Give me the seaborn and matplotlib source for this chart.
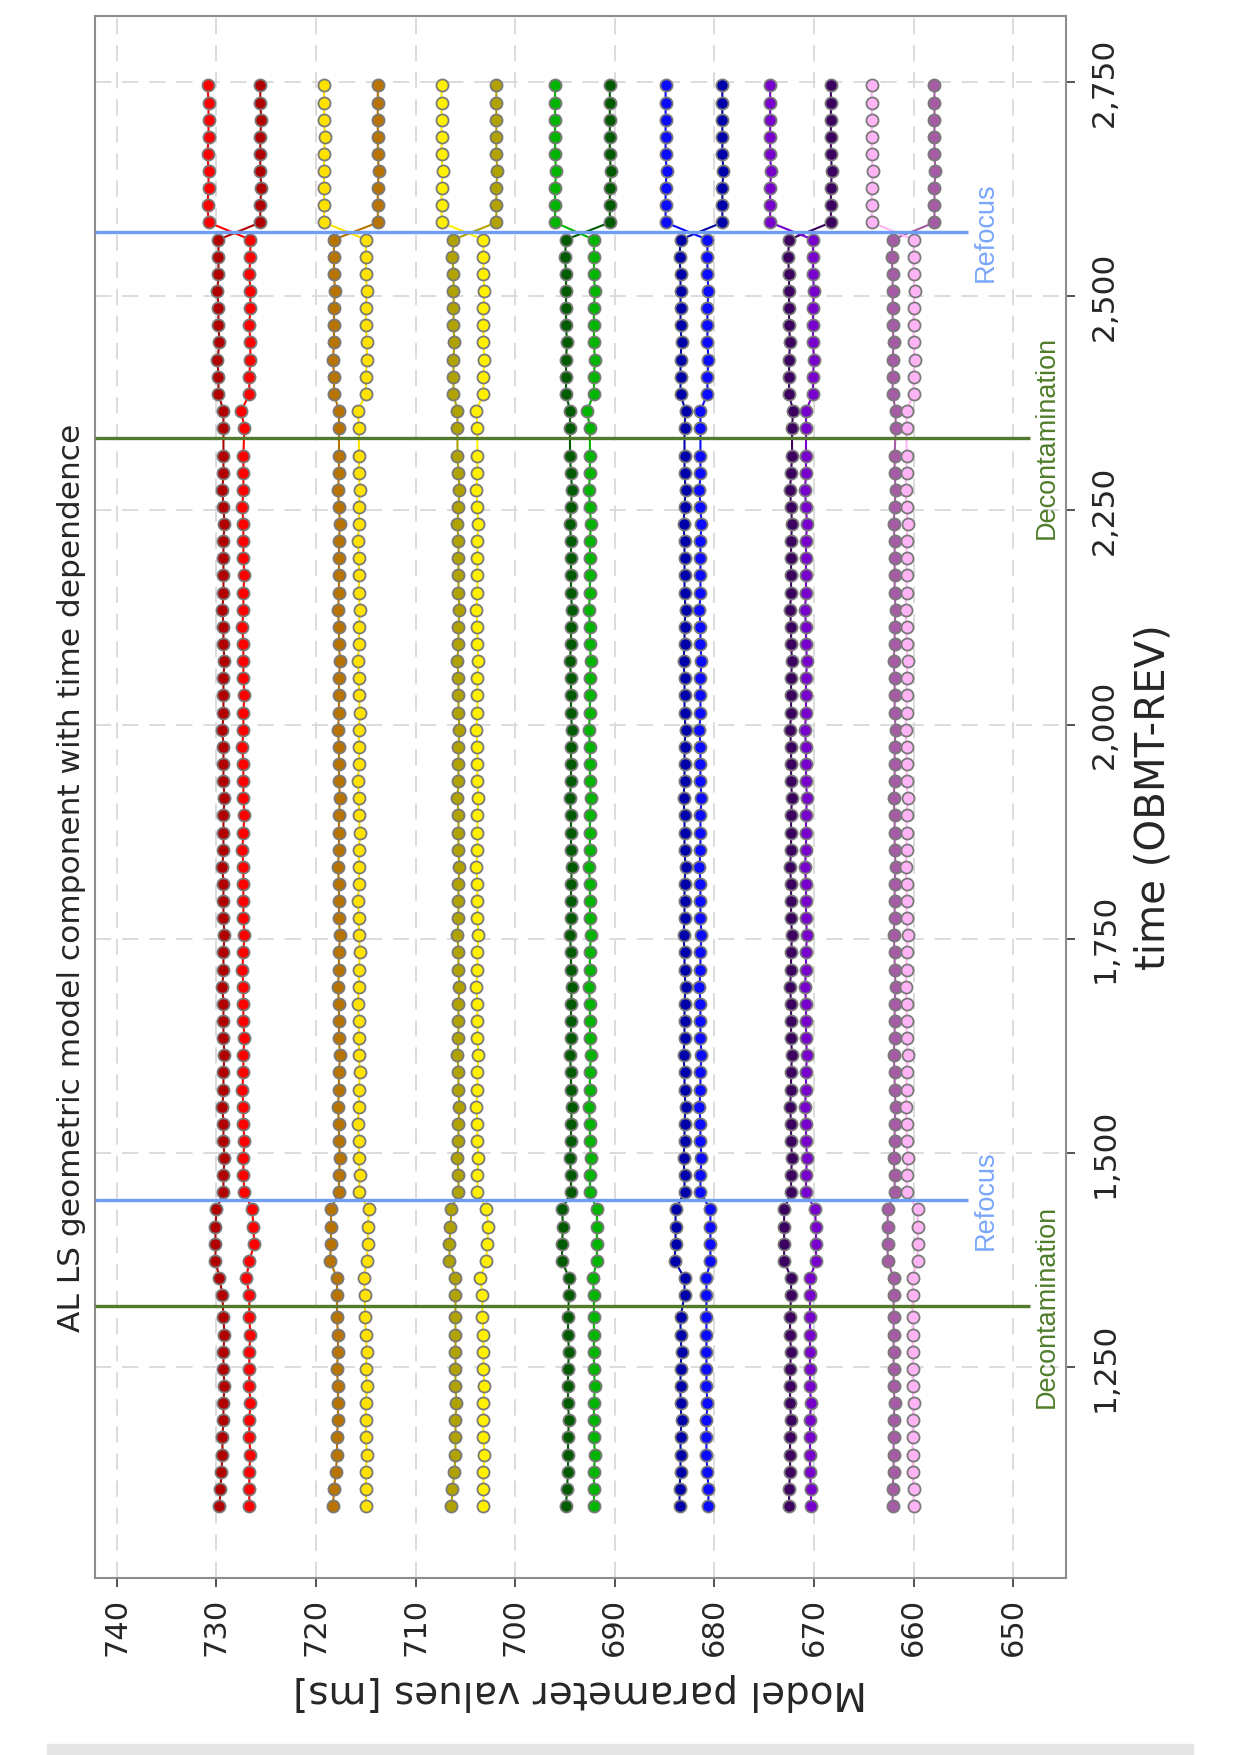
import matplotlib
matplotlib.use('Agg')
import matplotlib.pyplot as plt
from matplotlib.patches import Rectangle
from matplotlib.ticker import FuncFormatter
import pandas as pd
import seaborn as sns

# ---------------- data ----------------
# sample times in OBMT-REV, split by the events
T_SEG1 = [1088, 1108, 1128, 1148, 1168, 1188, 1208, 1228, 1248, 1268, 1288, 1308]
T_SEG2 = [1334, 1354, 1374, 1394, 1414, 1434]
T_SEG3 = [1454, 1474, 1494, 1514, 1534, 1554, 1574, 1594, 1614, 1634, 1654,
          1674, 1694, 1714, 1734, 1754, 1774, 1794, 1814, 1834, 1854, 1874,
          1894, 1914, 1934, 1954, 1974, 1994, 2014, 2034, 2054, 2074, 2094,
          2114, 2134, 2154, 2174, 2194, 2214, 2234, 2254, 2274, 2294, 2314]
T_SEG4 = [2346, 2366, 2386, 2406, 2426, 2446, 2466, 2486, 2506, 2526, 2546, 2566]
T_SEG5 = [2586, 2606, 2626, 2646, 2666, 2686, 2706, 2726, 2746]
TIME = T_SEG1 + T_SEG2 + T_SEG3 + T_SEG4 + T_SEG5

DECONTAMINATION = [1321, 2335]
REFOCUS = [1445, 2575]

# model parameter values [ms], one list per series (segments on separate lines)
RED_DARK = [
    729.7, 729.6, 729.5, 729.4, 729.4, 729.3, 729.3, 729.2, 729.3, 729.3, 729.2, 729.3,
    729.4, 729.7, 730.1, 730.1, 730.1, 730.0,
    729.3, 729.3, 729.2, 729.3, 729.3, 729.4, 729.3, 729.3, 729.2, 729.3, 729.3,
    729.3, 729.4, 729.3, 729.3, 729.2, 729.3, 729.3, 729.3, 729.4, 729.3, 729.3,
    729.3, 729.2, 729.3, 729.3, 729.3, 729.4, 729.3, 729.3, 729.3, 729.2, 729.3,
    729.3, 729.4, 729.3, 729.3, 729.3, 729.3, 729.2, 729.3, 729.4, 729.3, 729.3,
    729.3, 729.3, 729.8, 729.8, 729.9, 729.7, 729.8, 729.8, 729.9, 729.8, 729.8, 729.8,
    725.6, 725.6, 725.5, 725.6, 725.6, 725.6, 725.5, 725.6, 725.6,
]
RED = [
    726.7, 726.7, 726.7, 726.6, 726.7, 726.7, 726.6, 726.7, 726.7, 726.7, 726.6, 726.7,
    726.7, 727.0, 726.7, 726.2, 726.3, 726.4,
    727.2, 727.3, 727.3, 727.2, 727.3, 727.3, 727.4, 727.3, 727.3, 727.2, 727.3,
    727.3, 727.3, 727.4, 727.3, 727.2, 727.3, 727.3, 727.3, 727.3, 727.4, 727.3,
    727.2, 727.3, 727.3, 727.3, 727.4, 727.3, 727.3, 727.2, 727.3, 727.3, 727.3,
    727.4, 727.3, 727.3, 727.2, 727.3, 727.3, 727.3, 727.4, 727.3, 727.3, 727.3,
    727.2, 727.5, 726.7, 726.7, 726.6, 726.6, 726.7, 726.6, 726.6, 726.7, 726.6, 726.6,
    730.8, 730.9, 730.8, 730.8, 730.9, 730.8, 730.8, 730.8, 730.9,
]
BROWN = [
    718.3, 718.2, 718.0, 717.9, 717.9, 717.8, 717.8, 717.8, 717.9, 717.8, 717.8, 717.9,
    717.9, 717.9, 718.6, 718.5, 718.5, 718.5,
    717.7, 717.7, 717.6, 717.7, 717.7, 717.8, 717.7, 717.7, 717.6, 717.7, 717.7,
    717.7, 717.8, 717.7, 717.7, 717.6, 717.7, 717.7, 717.7, 717.8, 717.7, 717.7,
    717.7, 717.6, 717.7, 717.7, 717.7, 717.8, 717.7, 717.7, 717.7, 717.6, 717.7,
    717.7, 717.8, 717.7, 717.7, 717.7, 717.7, 717.6, 717.7, 717.8, 717.7, 717.7,
    717.7, 717.7, 718.2, 718.2, 718.3, 718.2, 718.2, 718.2, 718.1, 718.2, 718.2, 718.2,
    713.8, 713.8, 713.8, 713.7, 713.8, 713.8, 713.8, 713.8, 713.8,
]
YELLOW_A = [
    715.0, 715.0, 715.0, 714.9, 715.0, 715.0, 715.0, 714.9, 715.0, 714.9, 715.0, 715.1,
    715.1, 715.2, 714.9, 714.8, 714.8, 714.7,
    715.7, 715.6, 715.7, 715.7, 715.8, 715.7, 715.7, 715.6, 715.7, 715.7, 715.7,
    715.8, 715.7, 715.7, 715.6, 715.7, 715.7, 715.8, 715.7, 715.7, 715.7, 715.6,
    715.7, 715.7, 715.8, 715.7, 715.7, 715.7, 715.6, 715.7, 715.7, 715.8, 715.7,
    715.7, 715.6, 715.7, 715.7, 715.7, 715.8, 715.7, 715.7, 715.6, 715.7, 715.7,
    715.7, 715.8, 715.0, 715.0, 714.9, 714.9, 715.0, 715.0, 714.9, 715.0, 715.0, 715.0,
    719.2, 719.2, 719.2, 719.2, 719.2, 719.1, 719.2, 719.2, 719.2,
]
OLIVE = [
    706.4, 706.3, 706.1, 706.0, 706.0, 706.0, 705.9, 706.0, 706.0, 706.0, 706.0, 706.0,
    706.0, 706.0, 706.6, 706.6, 706.5, 706.4,
    705.7, 705.7, 705.8, 705.7, 705.7, 705.6, 705.7, 705.7, 705.8, 705.7, 705.7,
    705.7, 705.6, 705.7, 705.7, 705.8, 705.7, 705.7, 705.7, 705.6, 705.7, 705.7,
    705.7, 705.8, 705.7, 705.7, 705.7, 705.6, 705.7, 705.7, 705.7, 705.8, 705.7,
    705.7, 705.6, 705.7, 705.7, 705.7, 705.7, 705.8, 705.7, 705.6, 705.7, 705.8,
    705.8, 705.8, 706.2, 706.2, 706.2, 706.1, 706.2, 706.2, 706.2, 706.2, 706.3, 706.2,
    701.9, 701.9, 701.9, 701.8, 701.9, 701.9, 701.9, 701.9, 701.9,
]
YELLOW_B = [
    703.2, 703.2, 703.2, 703.1, 703.2, 703.2, 703.2, 703.1, 703.2, 703.2, 703.2, 703.3,
    703.3, 703.5, 702.9, 702.8, 702.7, 702.9,
    703.8, 703.8, 703.7, 703.8, 703.8, 703.9, 703.8, 703.8, 703.7, 703.8, 703.8,
    703.8, 703.9, 703.8, 703.8, 703.7, 703.8, 703.8, 703.8, 703.9, 703.8, 703.8,
    703.8, 703.7, 703.8, 703.8, 703.8, 703.9, 703.8, 703.8, 703.8, 703.7, 703.8,
    703.8, 703.9, 703.8, 703.8, 703.8, 703.8, 703.7, 703.8, 703.9, 703.8, 703.8,
    703.8, 703.9, 703.2, 703.2, 703.1, 703.2, 703.2, 703.2, 703.1, 703.2, 703.2, 703.2,
    707.4, 707.4, 707.4, 707.3, 707.4, 707.4, 707.4, 707.4, 707.4,
]
GREEN_DARK = [
    694.9, 694.8, 694.7, 694.7, 694.7, 694.6, 694.7, 694.7, 694.7, 694.6, 694.7, 694.7,
    694.6, 694.6, 695.3, 695.3, 695.2, 695.3,
    694.4, 694.4, 694.5, 694.4, 694.4, 694.3, 694.4, 694.4, 694.5, 694.4, 694.4,
    694.4, 694.3, 694.4, 694.4, 694.5, 694.4, 694.4, 694.4, 694.3, 694.4, 694.4,
    694.4, 694.5, 694.4, 694.4, 694.4, 694.3, 694.4, 694.4, 694.4, 694.5, 694.4,
    694.4, 694.3, 694.4, 694.4, 694.4, 694.4, 694.5, 694.4, 694.3, 694.4, 694.5,
    694.5, 694.5, 694.9, 694.9, 694.9, 694.8, 694.9, 694.9, 694.9, 694.9, 695.0, 694.9,
    690.5, 690.5, 690.5, 690.4, 690.5, 690.5, 690.5, 690.5, 690.5,
]
GREEN = [
    692.1, 692.1, 692.1, 692.0, 692.1, 692.1, 692.1, 692.0, 692.1, 692.1, 692.1, 692.1,
    692.1, 692.2, 691.8, 691.8, 691.8, 691.8,
    692.5, 692.5, 692.4, 692.5, 692.5, 692.6, 692.5, 692.5, 692.4, 692.5, 692.5,
    692.5, 692.6, 692.5, 692.5, 692.4, 692.5, 692.5, 692.5, 692.6, 692.5, 692.5,
    692.5, 692.4, 692.5, 692.5, 692.5, 692.6, 692.5, 692.5, 692.5, 692.4, 692.5,
    692.5, 692.6, 692.5, 692.5, 692.5, 692.5, 692.4, 692.5, 692.6, 692.5, 692.5,
    692.5, 692.8, 692.1, 692.1, 692.0, 692.1, 692.1, 692.1, 692.0, 692.1, 692.1, 692.1,
    696.0, 696.0, 696.0, 695.9, 696.0, 696.0, 696.0, 696.0, 696.0,
]
BLUE_DARK = [
    683.5, 683.5, 683.4, 683.4, 683.4, 683.3, 683.4, 683.4, 683.4, 683.3, 683.4, 683.4,
    683.0, 683.0, 684.0, 683.9, 683.9, 683.9,
    683.0, 683.0, 683.1, 683.0, 683.0, 682.9, 683.0, 683.0, 683.1, 683.0, 683.0,
    683.0, 682.9, 683.0, 683.0, 683.1, 683.0, 683.0, 683.0, 682.9, 683.0, 683.0,
    683.0, 683.1, 683.0, 683.0, 683.0, 682.9, 683.0, 683.0, 683.0, 683.1, 683.0,
    683.0, 682.9, 683.0, 683.0, 683.0, 683.0, 683.1, 683.0, 682.9, 683.0, 683.0,
    683.0, 682.9, 683.4, 683.4, 683.4, 683.3, 683.4, 683.4, 683.4, 683.4, 683.5, 683.4,
    679.2, 679.2, 679.2, 679.1, 679.2, 679.2, 679.2, 679.2, 679.2,
]
BLUE = [
    680.6, 680.6, 680.7, 680.8, 680.8, 680.8, 680.7, 680.8, 680.8, 680.8, 680.8, 680.8,
    680.8, 680.8, 680.4, 680.4, 680.4, 680.4,
    681.4, 681.4, 681.3, 681.4, 681.4, 681.5, 681.4, 681.4, 681.3, 681.4, 681.4,
    681.4, 681.5, 681.4, 681.4, 681.3, 681.4, 681.4, 681.4, 681.5, 681.4, 681.4,
    681.4, 681.3, 681.4, 681.4, 681.4, 681.5, 681.4, 681.4, 681.4, 681.3, 681.4,
    681.4, 681.5, 681.4, 681.4, 681.4, 681.4, 681.3, 681.4, 681.5, 681.4, 681.4,
    681.4, 681.4, 680.7, 680.7, 680.6, 680.7, 680.7, 680.7, 680.6, 680.7, 680.7, 680.7,
    684.9, 684.9, 684.9, 684.8, 684.9, 684.9, 684.9, 684.9, 684.9,
]
PURPLE_DARK = [
    672.5, 672.5, 672.4, 672.4, 672.4, 672.3, 672.4, 672.4, 672.4, 672.3, 672.4, 672.4,
    672.3, 672.3, 673.0, 673.0, 673.0, 673.0,
    672.3, 672.3, 672.2, 672.3, 672.3, 672.4, 672.3, 672.3, 672.2, 672.3, 672.3,
    672.3, 672.4, 672.3, 672.3, 672.2, 672.3, 672.3, 672.3, 672.4, 672.3, 672.3,
    672.3, 672.2, 672.3, 672.3, 672.3, 672.4, 672.3, 672.3, 672.3, 672.2, 672.3,
    672.3, 672.4, 672.3, 672.3, 672.3, 672.3, 672.2, 672.3, 672.4, 672.3, 672.2,
    672.2, 672.1, 672.5, 672.5, 672.5, 672.4, 672.5, 672.5, 672.5, 672.5, 672.6, 672.5,
    668.3, 668.3, 668.3, 668.2, 668.3, 668.3, 668.3, 668.3, 668.3,
]
PURPLE = [
    670.3, 670.3, 670.4, 670.4, 670.4, 670.4, 670.3, 670.4, 670.4, 670.4, 670.4, 670.4,
    670.4, 670.4, 669.8, 669.8, 669.8, 669.9,
    670.8, 670.8, 670.7, 670.8, 670.8, 670.9, 670.8, 670.8, 670.7, 670.8, 670.8,
    670.8, 670.9, 670.8, 670.8, 670.7, 670.8, 670.8, 670.8, 670.9, 670.8, 670.8,
    670.8, 670.7, 670.8, 670.8, 670.8, 670.9, 670.8, 670.8, 670.8, 670.7, 670.8,
    670.8, 670.9, 670.8, 670.8, 670.8, 670.8, 670.7, 670.8, 670.9, 670.8, 670.8,
    670.8, 670.8, 670.1, 670.1, 670.0, 670.1, 670.1, 670.1, 670.0, 670.1, 670.1, 670.1,
    674.4, 674.4, 674.4, 674.3, 674.4, 674.4, 674.4, 674.4, 674.4,
]
MAUVE = [
    662.1, 662.1, 662.0, 662.0, 662.0, 662.0, 661.9, 662.0, 662.0, 662.0, 662.0, 662.0,
    662.0, 662.0, 662.6, 662.6, 662.6, 662.6,
    661.9, 661.9, 662.0, 661.9, 661.9, 661.8, 661.9, 661.9, 662.0, 661.9, 661.9,
    661.9, 661.8, 661.9, 661.9, 662.0, 661.9, 661.9, 661.9, 661.8, 661.9, 661.9,
    661.9, 662.0, 661.9, 661.9, 661.9, 661.8, 661.9, 661.9, 661.9, 662.0, 661.9,
    661.9, 661.8, 661.9, 661.9, 661.9, 661.9, 662.0, 661.9, 661.8, 661.9, 661.9,
    661.8, 661.8, 662.1, 662.1, 662.1, 662.0, 662.1, 662.1, 662.1, 662.1, 662.2, 662.1,
    657.9, 657.9, 657.9, 657.8, 657.9, 657.9, 657.9, 657.9, 657.9,
]
PINK = [
    660.0, 660.0, 660.1, 660.1, 660.1, 660.1, 660.0, 660.1, 660.1, 660.1, 660.1, 660.1,
    660.1, 660.1, 659.6, 659.6, 659.6, 659.6,
    660.7, 660.7, 660.6, 660.7, 660.7, 660.8, 660.7, 660.7, 660.6, 660.7, 660.7,
    660.7, 660.8, 660.7, 660.7, 660.6, 660.7, 660.7, 660.7, 660.8, 660.7, 660.7,
    660.7, 660.6, 660.7, 660.7, 660.7, 660.8, 660.7, 660.7, 660.7, 660.6, 660.7,
    660.7, 660.8, 660.7, 660.7, 660.7, 660.7, 660.6, 660.7, 660.8, 660.7, 660.7,
    660.7, 660.7, 660.0, 660.0, 659.9, 660.0, 660.0, 660.0, 659.9, 660.0, 660.0, 660.0,
    664.2, 664.2, 664.2, 664.1, 664.2, 664.2, 664.2, 664.2, 664.2,
]

SERIES = {
    'red_dark': RED_DARK, 'red': RED,
    'brown': BROWN, 'yellow_a': YELLOW_A,
    'olive': OLIVE, 'yellow_b': YELLOW_B,
    'green_dark': GREEN_DARK, 'green': GREEN,
    'blue_dark': BLUE_DARK, 'blue': BLUE,
    'purple_dark': PURPLE_DARK, 'purple': PURPLE,
    'mauve': MAUVE, 'pink': PINK,
}
COLORS = {
    'red_dark': '#b00000', 'red': '#ff0000',
    'brown': '#b87300', 'yellow_a': '#ffe200',
    'olive': '#b0a200', 'yellow_b': '#fff000',
    'green_dark': '#005a00', 'green': '#00b400',
    'blue_dark': '#0000aa', 'blue': '#0a0aff',
    'purple_dark': '#3c0060', 'purple': '#7700cc',
    'mauve': '#a55ca5', 'pink': '#ffb4f5',
}

for name, vals in SERIES.items():
    assert len(vals) == len(TIME), (name, len(vals))

df = pd.concat([pd.DataFrame({'time': TIME, 'value': vals, 'series': name})
                for name, vals in SERIES.items()], ignore_index=True)

# ---------------- plot (drawn rotated: time runs up, values run right-to-left) ----------------
sns.set_style('white')
plt.rcParams['font.family'] = ['DejaVu Sans']
EVENT_FONT = ['Liberation Sans', 'DejaVu Sans']

fig = plt.figure(figsize=(12.4, 17.55), dpi=100)
fig.patch.set_facecolor('white')
ax = fig.add_axes([0.0766, 0.1009, 0.783, 0.890])

sns.lineplot(data=df, x='value', y='time', hue='series', hue_order=list(SERIES),
             palette=COLORS, orient='y', sort=True, estimator=None,
             marker='o', markersize=8.7, markeredgecolor='#7a7a7a',
             markeredgewidth=1.3, linewidth=1.5, legend=False, ax=ax)

# event markers
X_LEFT, X_RIGHT = 742.2, 644.7
for t in DECONTAMINATION:
    ax.hlines(t, 648.3, X_LEFT, color='#52792c', linewidth=2.4, zorder=5)
    ax.text(647.9, t, 'Decontamination', rotation=90, ha='left', va='center',
            color='#4f7d2a', fontsize=19.5, family=EVENT_FONT)
for t in REFOCUS:
    ax.hlines(t, 654.5, X_LEFT, color='#6f9ef6', linewidth=2.4, zorder=5)
    ax.text(654.1, t, 'Refocus', rotation=90, ha='left', va='center',
            color='#7aa7fb', fontsize=19.5, family=EVENT_FONT)

ax.set_xlim(X_LEFT, X_RIGHT)
ax.set_ylim(1004, 2827)
ax.set_xticks(list(range(650, 741, 10)))
ax.set_yticks([1250, 1500, 1750, 2000, 2250, 2500, 2750])
ax.yaxis.set_major_formatter(FuncFormatter(lambda v, p: f'{v:,.0f}'))

ax.grid(True, color='#d9d9d9', linestyle=(0, (9, 6)), linewidth=1.3)
ax.set_axisbelow(True)
for sp in ax.spines.values():
    sp.set_visible(True)
    sp.set_color('#8c8c8c')
    sp.set_linewidth(1.5)

ax.yaxis.tick_right()
ax.tick_params(axis='x', bottom=True, top=False, length=6.5, width=1.3,
               color='#444444', pad=8, labelsize=22, labelrotation=90)
ax.tick_params(axis='y', left=False, right=True, labelleft=False, labelright=True,
               length=6.5, width=1.3, color='#444444', pad=11, labelsize=22.5,
               labelrotation=90)
for lab in ax.get_yticklabels():
    lab.set_va('center')

ax.set_xlabel('Model parameter values [ms]', fontsize=28, rotation=180)
ax.xaxis.set_label_coords(0.5, -0.073)
ax.xaxis.label.set_va('center')
ax.yaxis.set_label_position('right')
ax.set_ylabel('time (OBMT-REV)', fontsize=29, rotation=90)
ax.yaxis.set_label_coords(1.09, 0.5)
ax.yaxis.label.set_va('center')
ax.yaxis.label.set_ha('center')

fig.text(0.058, 0.5, 'AL LS geometric model component with time dependence',
         rotation=90, ha='center', va='center', fontsize=22.5)

# thin grey strip along the bottom edge of the page
fig.patches.append(Rectangle((0.038, 0.0), 0.924, 0.006, transform=fig.transFigure,
                             color='#e6e6e6', zorder=0))

fig.savefig('out.png', dpi=100, facecolor='white')
plt.close(fig)
